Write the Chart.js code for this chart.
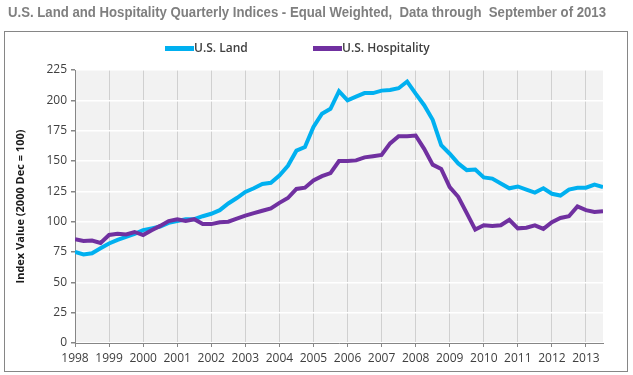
<!DOCTYPE html>
<html>
<head>
<meta charset="utf-8">
<script src="https://cdn.jsdelivr.net/npm/chart.js@4"></script>
<style>
html,body{margin:0;padding:0;background:#fff;}
#wrap{position:relative;width:633px;height:375px;}
</style>
</head>
<body>
<div id="wrap"><canvas id="c" width="633" height="375"></canvas></div>
<script>
const titleText = 'U.S. Land and Hospitality Quarterly Indices - Equal Weighted,  Data through  September of 2013';
const yAxisTitle = 'Index Value (2000 Dec = 100)';
const years = ['1998','1999','2000','2001','2002','2003','2004','2005','2006','2007','2008','2009','2010','2011','2012','2013'];
const seriesNames = ['U.S. Land', 'U.S. Hospitality'];
// Quarterly values, 1998 Q1 .. 2013 Q3
const landValues = [75,73,74,78,82,85,87.5,90,93,94.5,96,99,100.5,102,102,104.5,106.5,109.5,115,119.5,124.5,127.5,131,132,138,146,158.5,161.5,178,189,193,207.5,200,203,206,206,208,208.5,210,215.5,205.5,196,184,163,156,148,142.5,143,136.5,135.5,131.5,127.5,129,126.5,124,127.5,123,121.5,126.5,128,128,130.5,128.5];
const hospValues = [85.5,84,84.5,82.5,89,90,89.5,91.5,89,93,96.5,100.5,102,100.5,102,98,98,99.5,100,102.5,105,107,109,111,115.5,119.5,127,128,134,137.5,140,150,150,150.5,153,154,155,164.5,170.5,170.5,171,160,147,143.5,128.5,120.5,107,93.5,97,96.5,97,101.5,94.5,95,97,94,99.5,103,104.5,112.5,109.5,108,108.5];
const yTicks = [0,25,50,75,100,125,150,175,200,225];

const colors = ['#00b0f0', '#7030a0'];
const toXY = arr => arr.map((v, i) => ({x: i, y: v}));

const decor = {
  id: 'decor',
  beforeDraw(chart) {
    const {ctx, chartArea: a} = chart;
    ctx.save();
    ctx.fillStyle = '#fff';
    ctx.fillRect(0, 0, chart.width, chart.height);
    ctx.strokeStyle = '#868686';
    ctx.lineWidth = 1;
    ctx.strokeRect(4.5, 31.5, 623, 340);
    ctx.fillStyle = '#f2f2f2';
    ctx.fillRect(a.left, a.top, a.right - a.left, a.bottom - a.top);
    // title
    ctx.fillStyle = '#7f7f7f';
    ctx.font = 'bold 14px "Liberation Sans Narrow", "Liberation Sans", Arial, sans-serif';
    ctx.textBaseline = 'middle';
    ctx.textAlign = 'left';
    ctx.fillText(titleText, 8, 13, 598);
    // legend
    const items = [{x: 165, label: seriesNames[0], c: colors[0]}, {x: 313, label: seriesNames[1], c: colors[1]}];
    ctx.font = '600 12px "Open Sans", sans-serif';
    items.forEach(it => {
      ctx.strokeStyle = it.c;
      ctx.lineWidth = 5;
      ctx.beginPath();
      ctx.moveTo(it.x, 48.5);
      ctx.lineTo(it.x + 29, 48.5);
      ctx.stroke();
      ctx.fillStyle = '#404040';
      ctx.fillText(it.label, it.x + 29, 48.5);
    });
    ctx.restore();
  }
};

new Chart(document.getElementById('c'), {
  type: 'line',
  data: {
    datasets: [
      {label: seriesNames[0], data: toXY(landValues), borderColor: colors[0], backgroundColor: colors[0], borderWidth: 4, pointRadius: 0, tension: 0, order: 2},
      {label: seriesNames[1], data: toXY(hospValues), borderColor: colors[1], backgroundColor: colors[1], borderWidth: 4, pointRadius: 0, tension: 0, order: 1}
    ]
  },
  options: {
    responsive: false,
    animation: false,
    layout: {padding: {top: 70, left: 4, right: 30, bottom: 4}},
    plugins: {legend: {display: false}, title: {display: false}, tooltip: {enabled: false}},
    scales: {
      x: {
        type: 'linear',
        min: 0,
        max: landValues.length - 1,
        afterFit: s => { s.height = 28; },
        afterBuildTicks: s => { s.ticks = years.map((y, i) => ({value: i * 4})); },
        ticks: {
          autoSkip: false,
          maxRotation: 0,
          padding: 4,
          color: '#404040',
          font: {family: '"Open Sans", sans-serif', size: 12},
          callback: v => years[v / 4]
        },
        grid: {color: '#d0d0d0', lineWidth: 1, tickColor: '#868686', tickLength: 4, drawTicks: true},
        border: {color: '#868686', width: 1}
      },
      y: {
        min: 0,
        max: 225,
        afterFit: s => { s.width = 71; },
        afterBuildTicks: s => { s.ticks = yTicks.map(v => ({value: v})); },
        ticks: {
          padding: 4,
          color: '#404040',
          font: {family: '"Open Sans", sans-serif', size: 12}
        },
        grid: {color: '#ffffff', lineWidth: 1.5, tickColor: '#868686', tickLength: 4},
        border: {color: '#868686', width: 1},
        title: {
          display: true,
          text: yAxisTitle,
          color: '#1a1a1a',
          font: {family: '"Open Sans", sans-serif', size: 11, weight: 'bold'},
          padding: {top: 10, bottom: 0}
        }
      }
    }
  },
  plugins: [decor]
});
</script>
</body>
</html>
